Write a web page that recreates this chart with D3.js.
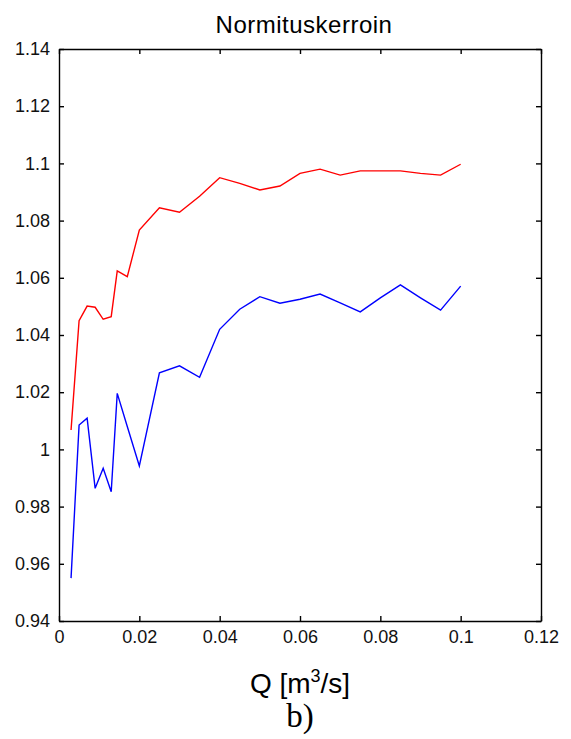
<!DOCTYPE html>
<html>
<head>
<meta charset="utf-8">
<script src="https://cdn.jsdelivr.net/npm/d3@7"></script>
<style>
  html, body { margin: 0; padding: 0; background: #fff; }
  svg { display: block; }
</style>
</head>
<body>
<svg id="chart" width="571" height="739"></svg>
<script>
const Q = [0.003, 0.005, 0.007, 0.009, 0.011, 0.013, 0.0145, 0.017, 0.02, 0.025, 0.03, 0.035, 0.04, 0.045, 0.05, 0.055, 0.06, 0.065, 0.07, 0.075, 0.08, 0.085, 0.09, 0.095, 0.1];
const redSeries = [1.0068, 1.045, 1.0501, 1.0497, 1.0455, 1.0464, 1.0624, 1.0604, 1.0767, 1.0845, 1.0829, 1.0885, 1.095, 1.093, 1.0907, 1.0921, 1.0965, 1.098, 1.0959, 1.0974, 1.0974, 1.0974, 1.0965, 1.0959, 1.0997];
const blueSeries = [0.955, 1.0085, 1.0109, 0.9864, 0.9934, 0.9852, 1.0196, 1.008, 0.9942, 1.0268, 1.0292, 1.0252, 1.042, 1.049, 1.0534, 1.0511, 1.0525, 1.0543, 1.0512, 1.0481, 1.053, 1.0575, 1.053, 1.0487, 1.0571];
const xTicks = [0, 0.02, 0.04, 0.06, 0.08, 0.1, 0.12];
const xTickLabels = ["0", "0.02", "0.04", "0.06", "0.08", "0.1", "0.12"];
const yTicks = [0.94, 0.96, 0.98, 1, 1.02, 1.04, 1.06, 1.08, 1.1, 1.12, 1.14];
const yTickLabels = ["0.94", "0.96", "0.98", "1", "1.02", "1.04", "1.06", "1.08", "1.1", "1.12", "1.14"];
const title = "Normituskerroin";
const caption = "b)";

const SANS = "Liberation Sans";
const SERIF = "Liberation Serif";

const svg = d3.select("#chart");
const L = 59, R = 541, T = 49, B = 621;
const x = d3.scaleLinear().domain([0, 0.12]).range([L, R]);
const y = d3.scaleLinear().domain([0.94, 1.14]).range([B, T]);

// lines
const line = d3.line().x((d, i) => x(Q[i])).y(d => y(d));
svg.append("path").datum(redSeries).attr("d", line)
  .attr("fill", "none").attr("stroke", "#ff0000").attr("stroke-width", 1.4);
svg.append("path").datum(blueSeries).attr("d", line)
  .attr("fill", "none").attr("stroke", "#0000ff").attr("stroke-width", 1.4);

// axes with inward ticks
const tickLen = 5;
const bottomAx = svg.append("g").attr("transform", `translate(0,${B})`)
  .call(d3.axisBottom(x).tickValues(xTicks).tickFormat((d, i) => xTickLabels[i]).tickSizeInner(-tickLen).tickSizeOuter(0).tickPadding(8));
const topAx = svg.append("g").attr("transform", `translate(0,${T})`)
  .call(d3.axisTop(x).tickValues(xTicks).tickFormat("").tickSizeInner(-tickLen).tickSizeOuter(0));
const leftAx = svg.append("g").attr("transform", `translate(${L},0)`)
  .call(d3.axisLeft(y).tickValues(yTicks).tickFormat((d, i) => yTickLabels[i]).tickSizeInner(-tickLen).tickSizeOuter(0).tickPadding(9));
const rightAx = svg.append("g").attr("transform", `translate(${R},0)`)
  .call(d3.axisRight(y).tickValues(yTicks).tickFormat("").tickSizeInner(-tickLen).tickSizeOuter(0));

[bottomAx, topAx, leftAx, rightAx].forEach(g => {
  g.attr("font-family", SANS).attr("font-size", 18);
  g.selectAll("path.domain").attr("stroke", "#000").attr("stroke-width", 1.4);
  g.selectAll(".tick line").attr("stroke", "#000").attr("stroke-width", 1.4);
  g.selectAll(".tick text").attr("fill", "#111");
});
bottomAx.selectAll(".tick text").attr("dy", "0.8em");

// title
svg.append("text").attr("font-family", SANS).attr("x", (L + R) / 2 + 4).attr("y", 33).attr("text-anchor", "middle")
  .attr("font-size", 24).style("letter-spacing", "0.5px").attr("fill", "#000").text(title);

// x label with superscript
const xl = svg.append("text").attr("font-family", SANS).attr("x", (L + R) / 2).attr("y", 693).attr("text-anchor", "middle")
  .attr("font-size", 28).attr("fill", "#000");
xl.append("tspan").text("Q [m");
xl.append("tspan").attr("dy", -11).attr("font-size", 18).text("3");
xl.append("tspan").attr("dy", 11).text("/s]");

// caption
svg.append("text").attr("font-family", SERIF).attr("x", (L + R) / 2).attr("y", 727).attr("text-anchor", "middle")
  .attr("font-size", 33).attr("fill", "#000").text(caption);
</script>
</body>
</html>
